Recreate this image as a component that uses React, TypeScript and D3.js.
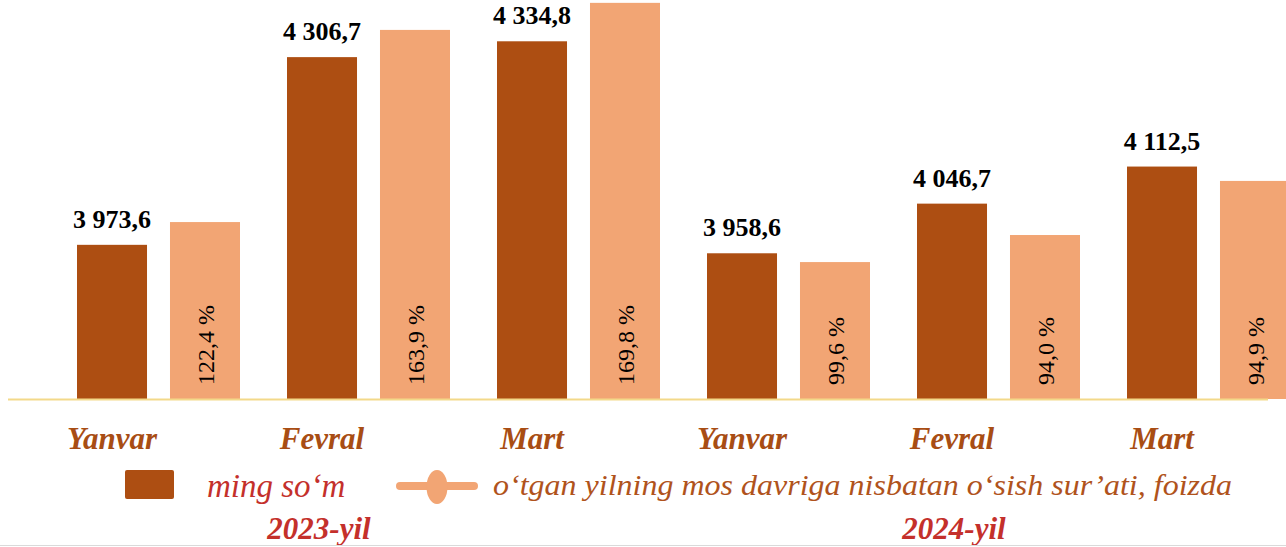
import React, { useEffect, useRef } from "react";
import * as d3 from "d3";

const categories = ["Yanvar", "Fevral", "Mart", "Yanvar", "Fevral", "Mart"];
const groupKeys = ["y23-1", "y23-2", "y23-3", "y24-1", "y24-2", "y24-3"];
const wageValues = [3973.6, 4306.7, 4334.8, 3958.6, 4046.7, 4112.5];
const wageLabels = ["3 973,6", "4 306,7", "4 334,8", "3 958,6", "4 046,7", "4 112,5"];
// heights of the light bars, read against the same axis
const growthBarLevels = [4014, 4355, 4403, 3943, 3991, 4087];
const growthLabels = ["122,4 %", "163,9 %", "169,8 %", "99,6 %", "94,0 %", "94,9 %"];
const yearLabels = ["2023-yil", "2024-yil"];
const legendLabels = ["ming so\u2018m", "o\u2018tgan yilning mos davriga nisbatan o\u2018sish sur\u2019ati, foizda"];

const W = 1286;
const H = 547;
const DARK = "#AD4E12";
const LIGHT = "#F2A574";
const CAT = "#A84D14";
const RED = "#C4302B";
const SERIF = '"Times New Roman", "Liberation Serif", Times, serif';

export default function App() {
  const ref = useRef<SVGSVGElement>(null);

  useEffect(() => {
    const svg = d3.select(ref.current);
    svg.selectAll("*").remove();

    const baseY = 399;
    const y = d3.scaleLinear().domain([3700, 4400]).range([baseY, baseY - 700 * 0.5635]);
    const x0 = d3.scaleBand<string>().domain(groupKeys).range([77, 77 + 1260]).padding(0);
    const x1 = d3.scaleBand<string>().domain(["wage", "growth"]).range([0, 163]).paddingInner(0.247).paddingOuter(0);
    const bw = x1.bandwidth();

    const g = svg.append("g").style("font-family", SERIF);

    g.selectAll("rect.wage")
      .data(wageValues)
      .join("rect")
      .attr("class", "wage")
      .attr("x", (_, i) => x0(groupKeys[i])! + x1("wage")!)
      .attr("y", (d) => y(d))
      .attr("width", bw)
      .attr("height", (d) => baseY - y(d))
      .attr("fill", DARK);

    g.selectAll("rect.growth")
      .data(growthBarLevels)
      .join("rect")
      .attr("class", "growth")
      .attr("x", (_, i) => x0(groupKeys[i])! + x1("growth")!)
      .attr("y", (d) => y(d))
      .attr("width", bw)
      .attr("height", (d) => baseY - y(d))
      .attr("fill", LIGHT);

    g.append("line")
      .attr("x1", 8).attr("x2", 1268)
      .attr("y1", baseY + 0.5).attr("y2", baseY + 0.5)
      .attr("stroke", "#F3D98A").attr("stroke-width", 2);

    g.selectAll("text.wl")
      .data(wageValues)
      .join("text")
      .attr("class", "wl")
      .attr("x", (_, i) => x0(groupKeys[i])! + x1("wage")! + bw / 2)
      .attr("y", (d) => y(d) - 17)
      .attr("text-anchor", "middle")
      .style("font-family", SERIF)
      .attr("font-weight", "bold")
      .attr("font-size", 26)
      .attr("fill", "#000")
      .text((_, i) => wageLabels[i]);

    g.selectAll("text.gl")
      .data(growthLabels)
      .join("text")
      .attr("class", "gl")
      .attr("transform", (_, i) => {
        const cx = x0(groupKeys[i])! + x1("growth")! + bw / 2 + 9;
        return `translate(${cx},${baseY - 14}) rotate(-90)`;
      })
      .attr("text-anchor", "start")
      .style("font-family", SERIF)
      .attr("font-size", 24)
      .attr("fill", "#000")
      .text((d) => d);

    g.selectAll("text.cat")
      .data(categories)
      .join("text")
      .attr("class", "cat")
      .attr("x", (_, i) => x0(groupKeys[i])! + x1("wage")! + bw / 2)
      .attr("y", 449)
      .attr("text-anchor", "middle")
      .style("font-family", SERIF)
      .attr("font-weight", "bold")
      .attr("font-style", "italic")
      .attr("font-size", 31)
      .attr("fill", CAT)
      .text((d) => d);

    g.append("rect")
      .attr("x", 125).attr("y", 470).attr("width", 49).attr("height", 29)
      .attr("rx", 2).attr("fill", DARK);
    g.append("text")
      .attr("x", 207).attr("y", 497)
      .style("font-family", SERIF).attr("font-style", "italic").attr("font-size", 33)
      .attr("fill", RED)
      .text(legendLabels[0]);

    g.append("line")
      .attr("x1", 400).attr("x2", 474).attr("y1", 486).attr("y2", 486)
      .attr("stroke", LIGHT).attr("stroke-width", 8).attr("stroke-linecap", "round");
    g.append("ellipse")
      .attr("cx", 437).attr("cy", 487).attr("rx", 10.5).attr("ry", 17)
      .attr("fill", LIGHT);
    g.append("text")
      .attr("x", 493).attr("y", 495)
      .style("font-family", SERIF).attr("font-style", "italic").attr("font-size", 30)
      .attr("fill", "#B0531C")
      .attr("textLength", 739).attr("lengthAdjust", "spacingAndGlyphs")
      .text(legendLabels[1]);

    const yearX = [319, 954];
    g.selectAll("text.year")
      .data(yearLabels)
      .join("text")
      .attr("class", "year")
      .attr("x", (_, i) => yearX[i])
      .attr("y", 539)
      .attr("text-anchor", "middle")
      .style("font-family", SERIF)
      .attr("font-weight", "bold")
      .attr("font-style", "italic")
      .attr("font-size", 31)
      .attr("fill", RED)
      .text((d) => d);

    g.append("line")
      .attr("x1", 0).attr("x2", W).attr("y1", 545.5).attr("y2", 545.5)
      .attr("stroke", "#DADADA").attr("stroke-width", 1);
  }, []);

  return (
    <svg
      ref={ref}
      width={W}
      height={H}
      style={{ position: "absolute", left: 0, top: 0, background: "#fff" }}
    />
  );
}
